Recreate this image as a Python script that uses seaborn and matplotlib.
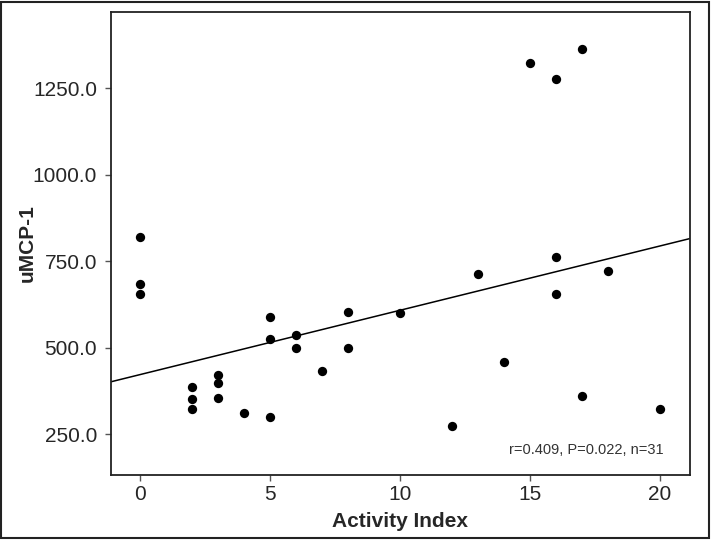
import matplotlib
matplotlib.use("Agg")
import matplotlib.pyplot as plt
import seaborn as sns
import pandas as pd
from matplotlib.patches import Rectangle

# Activity index vs urinary MCP-1
activity_index = [0, 0, 0, 2, 2, 2, 3, 3, 3, 4, 5, 5, 5, 6, 6, 7, 8, 8,
                  10, 12, 13, 14, 15, 16, 16, 16, 17, 17, 18, 20]
umcp1 = [818, 684, 654, 386, 350, 322, 420, 398, 353, 310, 587, 524, 300, 537, 500, 431, 602, 500,
         600, 274, 713, 458, 1322, 1275, 762, 654, 1363, 359, 721, 322]

# fitted line as printed in the figure
fit_intercept = 421.5
fit_slope = 18.6
stats_text = "r=0.409, P=0.022, n=31"

y_ticks = [250, 500, 750, 1000, 1250]
x_ticks = [0, 5, 10, 15, 20]

df = pd.DataFrame({"Activity Index": activity_index, "uMCP-1": umcp1})

sns.set_style("ticks")
plt.rcParams["font.family"] = ["Liberation Sans", "DejaVu Sans"]

fig = plt.figure(figsize=(7.12, 5.4), dpi=100)
ax = fig.add_axes([0.156, 0.12, 0.813, 0.858])

sns.scatterplot(data=df, x="Activity Index", y="uMCP-1", color="black",
                s=45, edgecolor="black", linewidth=0, ax=ax, zorder=3)
ax.axline((0, fit_intercept), slope=fit_slope, color="black", lw=1.1, zorder=2)

ax.set_xlim(-1.1, 21.15)
ax.set_ylim(131, 1470)
ax.set_xticks(x_ticks)
ax.set_yticks(y_ticks)
ax.set_yticklabels([f"{v:.1f}" for v in y_ticks])
ax.tick_params(axis="both", labelsize=15, length=4, width=1, color="#555555")
ax.tick_params(axis="y", pad=6)
ax.tick_params(axis="x", pad=3)

for sp in ax.spines.values():
    sp.set_visible(True)
    sp.set_color("#222222")
    sp.set_linewidth(1.3)

ax.set_xlabel("Activity Index", fontsize=15, fontweight="bold", labelpad=6)
ax.set_ylabel("uMCP-1", fontsize=15, fontweight="bold", labelpad=-2.5)

ax.text(0.955, 0.054, stats_text, transform=ax.transAxes, ha="right", va="center",
        fontsize=10.5, color="#333333", family=["Liberation Sans Narrow", "Liberation Sans", "DejaVu Sans"])

# outer frame around the whole figure
fig.patches.append(Rectangle((0.002, 0.003), 0.994, 0.993, transform=fig.transFigure,
                             fill=False, edgecolor="#222222", lw=1.5))

fig.savefig("out.png", dpi=100)
